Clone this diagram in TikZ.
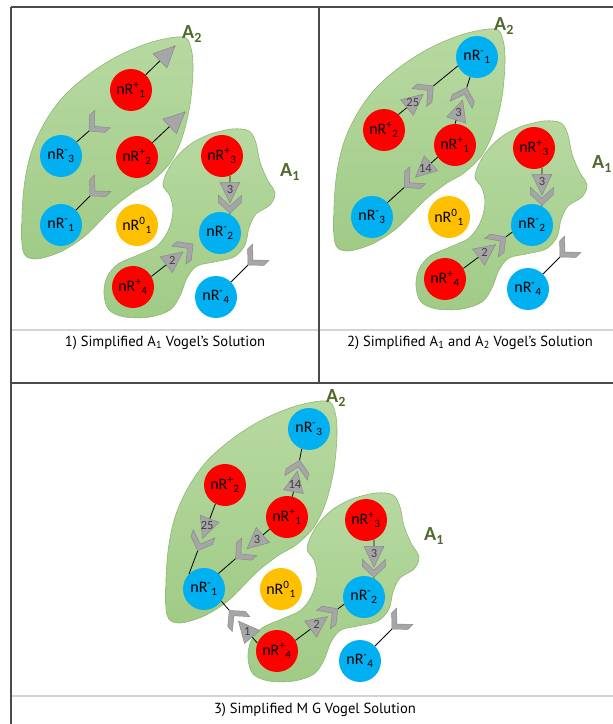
\documentclass[tikz,border=0pt]{standalone}
\usepackage{fontspec}
\setmainfont{Carlito}
\newfontfamily\capfont{PT Sans}
\usetikzlibrary{decorations.markings}
\definecolor{redN}{HTML}{FF0000}
\definecolor{blueN}{HTML}{00B0F0}
\definecolor{orangeN}{HTML}{FFC000}
\definecolor{blobTop}{HTML}{B7D9A1}
\definecolor{blobBot}{HTML}{A0CB86}
\definecolor{blobLine}{HTML}{8DB870}
\definecolor{labGreen}{HTML}{4F6B2C}
\definecolor{arrFill}{HTML}{A6A6A6}
\definecolor{arrLine}{HTML}{898989}
\definecolor{frameC}{HTML}{4A4A4A}
\definecolor{sepC}{HTML}{D4D4D4}
\newcommand\nRlab[2]{nR\textsuperscript{#1}\textsubscript{#2}}
\newcommand\triFwdShape{\filldraw[arrshape] (0,10) -- (21,0) -- (0,-10) -- cycle;}
\newcommand\triEndShape{\filldraw[arrshape] (0,0) -- (-21,10) -- (-21,-10) -- cycle;}
\newcommand\chevShape{\filldraw[arrshape] (0,0) -- (-11,11.5) -- (-18,11.5) -- (-7,0) -- (-18,-11.5) -- (-11,-11.5) -- cycle;}
\newcommand\drawblobs{%
  \path[blob] plot[smooth cycle, tension=0.55] coordinates {(183,37) (191,48) (193,70) (190,105) (182,138) (170,163) (152,181) (135,191) (113,208) (85,236) (60,252) (35,259) (23,251) (22,215) (25,180) (32,150) (45,122) (63,97) (88,75) (118,56) (152,42)};
  \path[blob] plot[smooth cycle, tension=0.55] coordinates {(163,184) (172,163) (188,146) (208,135) (232,129) (249,131) (256,143) (260,162) (267,179) (275,193) (270,205) (256,214) (249,228) (245,245) (234,257) (214,262) (197,266) (187,278) (180,296) (170,310) (150,317) (125,317) (109,310) (104,294) (107,277) (118,264) (138,255) (157,246) (168,231) (173,212) (170,196)};
}
\newcommand\commonpanel[1]{%
  \node[redc] (#1R3p) at (222,156) {\nRlab{+}{3}};
  \node[orc] (#1R0) at (137,225) {\nRlab{0}{1}};
  \node[bluec] (#1R2m) at (220,233) {\nRlab{-}{2}};
  \node[redc] (#1R4p) at (133,287) {\nRlab{+}{4}};
  \node[bluec] (#1R4m) at (216,297) {\nRlab{-}{4}};
  \node[alab] (#1A2) at (192,34) {A\textsubscript{2}};
  \node[alab] (#1A1) at (290,172) {A\textsubscript{1}};
  \coordinate (#1C4) at (248,265);
}
\newcommand\commonlinks[1]{%
  \draw[chainline={6.6pt}{31pt}{37.6pt}{3}] (#1R3p.-68) -- (#1R2m.62);
  \draw[chevstub] (#1C4) -- (#1R4m.45);
}
\tikzset{
  nodeb/.style={circle, minimum size=42pt, inner sep=0pt, font=\fontsize{16}{17}\selectfont, text=black},
  redc/.style={nodeb, fill=redN},
  bluec/.style={nodeb, fill=blueN},
  orc/.style={nodeb, fill=orangeN},
  blob/.style={top color=blobTop, bottom color=blobBot, draw=blobLine, line width=0.6pt},
  alab/.style={font=\bfseries\fontsize{20}{20}\selectfont, text=labGreen, inner sep=0pt},
  capt/.style={font=\capfont\fontsize{14.6}{16}\selectfont, inner sep=0pt},
  conn/.style={draw=black, line width=0.8pt},
  arrshape/.style={fill=arrFill, draw=arrLine, line width=0.5pt, solid},
  trilab/.style={font=\fontsize{12.5}{12.5}\selectfont, text=black!75, inner sep=0pt},
  tristub/.style={conn, postaction={decorate, decoration={markings, mark=at position 1 with {\triEndShape}}}},
  chevstub/.style={conn, postaction={decorate, decoration={markings, mark=at position 0.01pt with {\chevShape}}}},
  chainline/.style n args={4}{conn, dash pattern=on #1 off #2 on 2000pt,
     postaction={decorate, decoration={markings,
       mark=at position #1 with {\triFwdShape \node[trilab] at (7.5,0) {#4};},
       mark=at position #3 with {\chevShape}}}},
  trichev/.style n args={2}{conn, dash pattern=on #1 off 2000pt,
     postaction={decorate, decoration={markings,
       mark=at position #1 with {\triFwdShape \node[trilab] at (7.5,0) {#2};},
       mark=at position 1 with {\chevShape}}}},
}
\begin{document}
\begin{tikzpicture}[x=1pt,y=-1pt]
\useasboundingbox (0,0) rectangle (613,724);
\fill[white] (0,0) rectangle (613,724);
% table
\draw[sepC, line width=2pt] (11,329.5) -- (620,329.5);
\draw[sepC, line width=1.5pt] (11,696) -- (620,696);
\draw[frameC, line width=1.6pt] (11,7) -- (620,7);
\draw[frameC, line width=1.6pt] (11,7) -- (11,730);
\draw[frameC, line width=1.2pt] (319,7) -- (319,383);
\draw[frameC, line width=1.2pt] (11,383) -- (620,383);
\node[capt] (cap1) at (165,343) {1) Simplified A\textsubscript{1} Vogel’s Solution};
\node[capt] (cap2) at (470,343) {2) Simplified A\textsubscript{1} and A\textsubscript{2} Vogel’s Solution};
\node[capt] (cap3) at (315,710) {3) Simplified M G Vogel Solution};
% panel 1
\begin{scope}
  \drawblobs
  \commonpanel{a}
  \node[redc] (aR1p) at (131,90) {\nRlab{+}{1}};
  \node[bluec] (aR3m) at (61,156) {\nRlab{-}{3}};
  \node[redc] (aR2p) at (137,157) {\nRlab{+}{2}};
  \node[bluec] (aR1m) at (61,225) {\nRlab{-}{1}};
  \coordinate (aT1) at (175,46);
  \coordinate (aT2) at (185,112);
  \coordinate (aC3) at (89,131);
  \coordinate (aC1) at (90,196);
  \coordinate (aC2) at (193,244);
  \commonlinks{a}
  \draw[tristub] (aR1p.46) -- (aT1);
  \draw[tristub] (aR2p.43) -- (aT2);
  \draw[chevstub] (aC3) -- (aR3m.42);
  \draw[chevstub] (aC1) -- (aR1m.45);
  \draw[trichev={19pt}{2}] (aR4p.30) -- (aC2);
\end{scope}
% panel 2
\begin{scope}[shift={(312,-8)}]
  \drawblobs
  \commonpanel{b}
  \node[bluec] (bR1m) at (165,65) {\nRlab{-}{1}};
  \node[redc] (bR2p) at (72,138) {\nRlab{+}{2}};
  \node[redc] (bR1p) at (143,153) {\nRlab{+}{1}};
  \node[bluec] (bR3m) at (60,225) {\nRlab{-}{3}};
  \commonlinks{b}
  \draw[chainline={11pt}{34pt}{45pt}{25}] (bR2p.47) -- (bR1m.205);
  \draw[chainline={4pt}{34pt}{38pt}{3}] (bR1p.90) -- (bR1m.-109);
  \draw[chainline={9pt}{36pt}{45pt}{14}] (bR1p.215) -- (bR3m.43);
  \draw[chainline={19pt}{34pt}{53pt}{2}] (bR4p.30) -- (bR2m.200);
\end{scope}
% panel 3
\begin{scope}[shift={(144,364)}]
  \drawblobs
  \commonpanel{c}
  \node[bluec] (cR3m) at (165,65) {\nRlab{-}{3}};
  \node[redc] (cR2p) at (81,121) {\nRlab{+}{2}};
  \node[redc] (cR1p) at (143,153) {\nRlab{+}{1}};
  \node[bluec] (cR1m) at (60,225) {\nRlab{-}{1}};
  \commonlinks{c}
  \draw[chainline={5pt}{32pt}{37pt}{14}] (cR1p.75) -- (cR3m.-110);
  \draw[chainline={16pt}{34pt}{50pt}{25}] (cR2p.-117) -- (cR1m.135);
  \draw[chainline={9pt}{36pt}{45pt}{3}] (cR1p.215) -- (cR1m.47);
  \draw[chainline={8pt}{35pt}{43pt}{1}] (cR4p.158) -- (cR1m.-35);
  \draw[chainline={19pt}{34pt}{53pt}{2}] (cR4p.30) -- (cR2m.200);
\end{scope}
\end{tikzpicture}
\end{document}
